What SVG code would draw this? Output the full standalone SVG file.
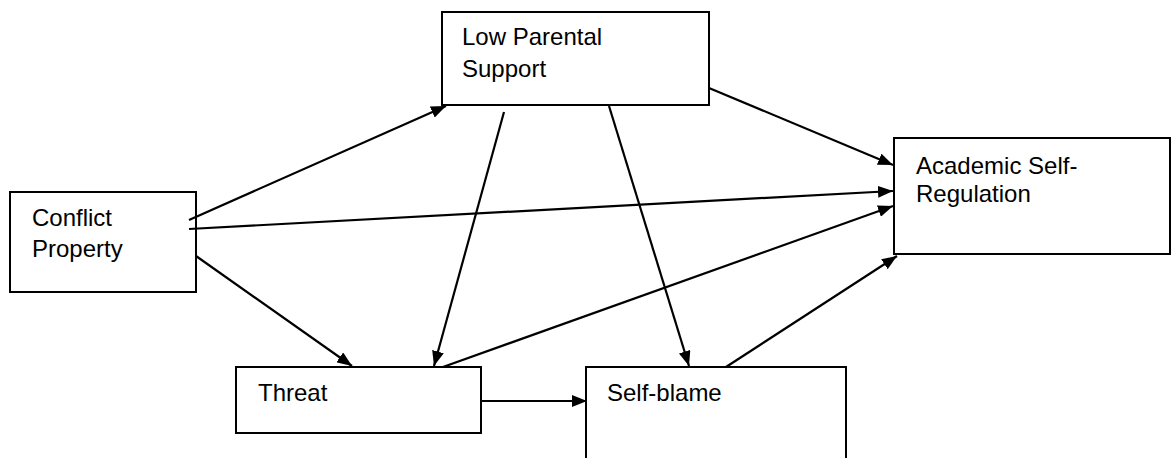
<svg xmlns="http://www.w3.org/2000/svg" width="1172" height="458" viewBox="0 0 1172 458">
<style>
.box{fill:#fff;stroke:#000;stroke-width:2}
.t{font-family:"Liberation Sans",Arial,sans-serif;font-size:24px;fill:#000}
.c{stroke:#000;stroke-width:2.2;fill:none;marker-end:url(#ah)}
</style>
<defs>
<marker id="ah" markerUnits="userSpaceOnUse" markerWidth="16" markerHeight="12" refX="15" refY="6" orient="auto">
<path d="M0,0 L15,6 L0,12 z" fill="#000"/>
</marker>
</defs>
<rect width="1172" height="458" fill="#fff"/>
<g id="low-parental-support">
<rect class="box" x="442" y="12" width="267" height="93"/>
<text class="t" x="462" y="45">Low Parental</text>
<text class="t" x="462" y="77">Support</text>
</g>
<g id="conflict-property">
<rect class="box" x="10" y="192" width="186" height="100"/>
<text class="t" x="32" y="226">Conflict</text>
<text class="t" x="32" y="257">Property</text>
</g>
<g id="academic-self-regulation">
<rect class="box" x="894" y="138" width="276" height="116"/>
<text class="t" x="916" y="174">Academic Self-</text>
<text class="t" x="916" y="202">Regulation</text>
</g>
<g id="threat">
<rect class="box" x="236" y="367" width="245" height="66"/>
<text class="t" x="258" y="401">Threat</text>
</g>
<g id="self-blame">
<rect class="box" x="586" y="367" width="260" height="100"/>
<text class="t" x="607" y="401">Self-blame</text>
</g>
<g id="connectors">
<line class="c" x1="189" y1="220" x2="446" y2="106"/>
<line class="c" x1="189" y1="229" x2="893" y2="191"/>
<line class="c" x1="196" y1="256" x2="352" y2="366"/>
<line class="c" x1="504" y1="112" x2="434" y2="366"/>
<line class="c" x1="609" y1="106" x2="689" y2="366"/>
<line class="c" x1="709" y1="88" x2="893" y2="165"/>
<line class="c" x1="443" y1="367" x2="893" y2="206"/>
<line class="c" x1="726" y1="367" x2="897" y2="256"/>
<line class="c" x1="481" y1="401" x2="587" y2="401"/>
</g>
</svg>
